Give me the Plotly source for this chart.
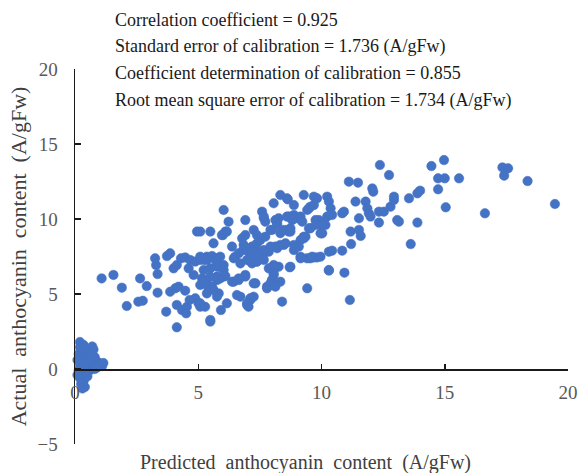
import plotly.graph_objects as go

# Main cloud: (predicted, actual) pairs
main_pts = [
    (1.08,6.04),(1.56,6.27),(1.90,5.42),(2.10,4.2),(2.57,4.49),(2.75,4.55),(2.64,6.04),(2.91,5.53),
    (3.25,7.38),(3.29,6.93),(3.35,6.33),(3.35,5.09),(3.73,7.53),(3.86,7.71),(3.70,3.82),(3.86,5.15),
    (4.07,5.38),(4.2,5.49),(4.13,2.78),(4.0,6.71),(4.13,6.93),(4.3,7.38),(4.47,7.44),(4.13,4.27),
    (4.34,3.93),(4.51,3.71),(4.54,4.15),(4.47,5.22),(4.61,6.71),(4.81,6.27),(4.67,7.27),(4.88,7.16),
    (5.08,7.27),(4.65,4.6),(4.88,4.71),(5.01,4.38),(5.08,4.15),(4.95,9.16),(5.08,5.6),(5.22,5.82),
    (5.35,5.71),(5.15,6.04),(5.24,7.27),(5.35,7.49),(5.56,7.53),(5.69,7.38),(5.49,9.16),(5.49,3.16),
    (5.35,5.04),(5.42,5.38),(5.56,5.49),(5.62,5.27),(5.62,8.38),(5.76,7.04),(5.86,6.82),(6.03,6.93),
    (5.76,6.16),(5.89,6.04),(6.1,6.2),(5.83,5.04),(5.92,3.93),(6.0,8.93),(6.1,9.16),(6.03,10.6),
    (6.16,4.38),(6.23,9.82),(6.37,8.16),(6.44,7.38),(6.64,7.71),(6.82,7.93),(6.44,5.82),(6.64,5.93),
    (6.57,4.93),(6.71,4.82),(6.78,8.71),(6.91,8.93),(6.91,9.93),(6.91,6.27),(6.98,4.27),(7.11,4.6),
    (7.25,4.82),(6.98,7.93),(7.18,8.16),(7.32,8.05),(7.38,8.38),(7.04,7.27),(7.18,7.04),(7.38,7.16),
    (7.25,9.27),(7.32,5.71),(7.59,10.49),(7.66,10.05),(7.72,9.82),(7.52,8.6),(7.72,8.82),(7.66,7.71),
    (7.86,7.82),(7.79,5.49),(7.93,5.71),(8.0,5.93),(8.06,6.27),(7.86,6.71),(8.06,6.93),(8.26,6.82),
    (7.93,9.27),(8.2,9.71),(8.26,10.05),(8.06,11.05),(8.13,8.16),(8.33,8.27),(8.54,8.38),(8.33,11.6),
    (8.6,11.38),(8.33,9.05),(8.6,9.27),(8.74,9.16),(8.33,5.82),(8.4,4.49),(8.67,10.16),(8.88,10.27),
    (9.01,10.05),(8.74,6.82),(8.88,10.93),(8.88,7.93),(9.08,8.16),(9.28,8.71),(9.15,7.49),(9.42,7.38),
    (9.69,7.44),(9.42,5.38),(9.28,11.6),(9.69,11.49),(9.49,10.71),(9.69,10.93),(9.55,9.38),(9.82,9.82),
    (8.63,11.31),(9.82,11.38),(9.55,10.82),(9.42,10.6),(7.66,10.16),(8.13,9.93),(8.2,9.6),(8.6,10.16),
    (8.81,9.93),(9.89,9.93),(10.09,9.71),(5.96,8.93),(6.16,9.16),(7.38,8.93),(7.99,9.27),(8.47,9.27),
    (8.67,9.16),(8.74,9.38),(9.49,9.38),(9.96,9.05),(5.08,9.16),(6.84,8.27),(7.11,7.6),(7.38,7.71),
    (7.66,7.93),(7.93,8.16),(8.2,8.05),(8.47,8.27),(8.88,8.27),(9.15,8.6),(9.35,8.82),(5.08,7.49),
    (5.35,7.27),(5.62,7.38),(5.89,7.49),(5.22,6.6),(5.49,6.71),(5.76,6.82),(6.03,6.6),(6.5,7.49),
    (6.71,7.04),(6.98,7.27),(7.38,7.16),(7.66,7.27),(7.93,6.71),(8.13,6.82),(8.06,6.38),(7.99,5.93),
    (9.15,7.38),(9.55,7.38),(9.82,7.44),(8.71,6.78),(7.93,5.6),(7.79,5.38),(8.13,5.49),(6.37,5.82),
    (6.64,6.04),(6.91,6.16),(7.25,5.71),(5.22,5.93),(5.49,6.16),(5.76,5.93),(6.03,6.16),(5.76,4.82),
    (7.11,4.71),(6.98,4.38),(7.04,4.15),(5.49,3.27),(5.08,4.38),(5.28,4.15),(10.3,7.82),(10.3,6.6),
    (12.37,13.6),(12.74,12.93),(11.11,12.49),(11.48,12.42),(12.06,12.04),(12.1,11.82),(10.23,11.49),
    (10.3,11.16),(10.37,10.71),(10.43,10.27),(10.23,10.16),(10.09,9.82),(10.16,9.6),(10.03,9.05),
    (10.91,10.49),(10.84,10.38),(11.38,11.16),(11.79,11.16),(11.86,10.71),(11.92,10.38),(11.99,10.16),
    (12.33,10.49),(12.53,10.49),(12.8,10.82),(12.94,11.27),(12.94,11.49),(11.52,10.05),(12.33,9.76),
    (13.07,9.93),(13.14,9.82),(13.55,11.38),(13.89,11.71),(14.0,11.89),(13.89,9.76),(14.46,13.53),
    (14.97,13.93),(14.73,12.71),(15.0,12.71),(14.73,11.98),(15.04,10.78),(11.18,9.16),(11.52,9.27),
    (11.59,8.87),(11.2,8.33),(10.43,7.89),(10.84,7.89),(13.62,8.33),(10.3,6.56),(10.93,6.42),
    (11.15,4.6),(9.96,7.49),(15.58,12.71),(16.63,10.38),(17.34,13.44),(17.57,13.38),(17.41,12.89),
    (18.36,12.53),(19.47,11.0),(9.15,10.16),(9.22,9.82),(9.76,9.93),(10.03,9.6),(9.76,9.6),
    (9.28,8.82),(9.62,7.49),(10.0,9.05),
]

# Cluster near the origin
low_pts = [
    (0.2,1.8),(0.35,1.6),(0.7,1.5),(0.6,1.2),(0.3,1.3),(0.15,1.0),(0.4,0.9),(0.25,0.6),(0.5,0.7),
    (0.8,0.8),(0.9,0.5),(1.0,0.3),(1.1,0.2),(0.7,0.3),(0.4,0.3),(0.2,0.2),(0.15,-0.1),(0.3,-0.3),
    (0.5,0.0),(0.6,-0.1),(0.8,0.0),(1.15,0.4),(0.2,-0.6),(0.35,-0.8),(0.25,-1.0),(0.4,-1.2),
    (0.3,-1.3),(0.1,-0.4),(0.55,0.45),(0.45,1.1),(0.1,0.6),(0.65,0.9),(0.9,0.1),(0.35,0.1),
    (0.2,1.45),(0.75,1.3),(0.5,-0.5),
]

predicted = [p[0] for p in low_pts + main_pts]
actual = [p[1] for p in low_pts + main_pts]

stats_lines = [
    "Correlation coefficient = 0.925",
    "Standard error of calibration = 1.736 (A/gFw)",
    "Coefficient determination of calibration = 0.855",
    "Root mean square error of calibration = 1.734 (A/gFw)",
]
x_title = "Predicted\u00a0 anthocyanin\u00a0 content\u00a0 (A/gFw)"
y_title = "Actual\u00a0 anthocyanin\u00a0 content\u00a0 (A/gFw)"
x_ticks = [0, 5, 10, 15, 20]
y_ticks = [-5, 0, 5, 10, 15, 20]

FONT = "Liberation Serif, Times New Roman, serif"
BLUE = "#4472C4"

fig = go.Figure()
fig.add_trace(go.Scatter(
    x=predicted, y=actual, mode="markers",
    marker=dict(size=9.5, color=BLUE, line=dict(color=BLUE, width=0.5)),
    showlegend=False, cliponaxis=False, hoverinfo="skip",
))

fig.update_layout(
    width=578, height=473,
    margin=dict(l=75, r=10, t=69, b=29, autoexpand=False),
    paper_bgcolor="white", plot_bgcolor="white",
    font=dict(family=FONT, size=19, color="#595959"),
    xaxis=dict(
        range=[0, 20], tickvals=x_ticks, anchor="free", position=0.2,
        showline=True, linecolor="#1a1a1a", linewidth=1.5,
        ticks="inside", ticklen=5, tickwidth=1.5, tickcolor="#1a1a1a",
        showgrid=False, zeroline=False, ticklabelstandoff=6, automargin=False,
        tickfont=dict(family=FONT, size=19, color="#595959"),
    ),
    yaxis=dict(
        range=[-5, 20], tickvals=y_ticks,
        showline=True, linecolor="#1a1a1a", linewidth=1.5,
        ticks="inside", ticklen=6, tickwidth=1.5, tickcolor="#1a1a1a",
        showgrid=False, zeroline=False, ticklabelstandoff=12, automargin=False,
        tickfont=dict(family=FONT, size=19, color="#595959"),
        title=dict(text=y_title, standoff=5,
                   font=dict(family=FONT, size=22, color="#404040")),
    ),
)

fig.add_annotation(
    text=x_title, xref="paper", yref="paper",
    x=0.467, y=-0.048, xanchor="center", yanchor="middle", showarrow=False,
    font=dict(family=FONT, size=20, color="#404040"),
)

line_y = [1.131, 1.061, 0.989, 0.917]
for txt, yy in zip(stats_lines, line_y):
    fig.add_annotation(
        text=txt, xref="paper", yref="paper", x=0.077, y=yy,
        xanchor="left", yanchor="middle", showarrow=False,
        font=dict(family=FONT, size=18, color="#1a1a1a"),
    )

# remove the default page margin / scrollbars so the figure fills the window
page_css = ("document.documentElement.style.overflow='hidden';"
            "document.body.style.margin='0';"
            "document.body.style.overflow='hidden';")

fig.write_html("out.html", post_script=page_css,
               config={"displayModeBar": False, "staticPlot": True})
